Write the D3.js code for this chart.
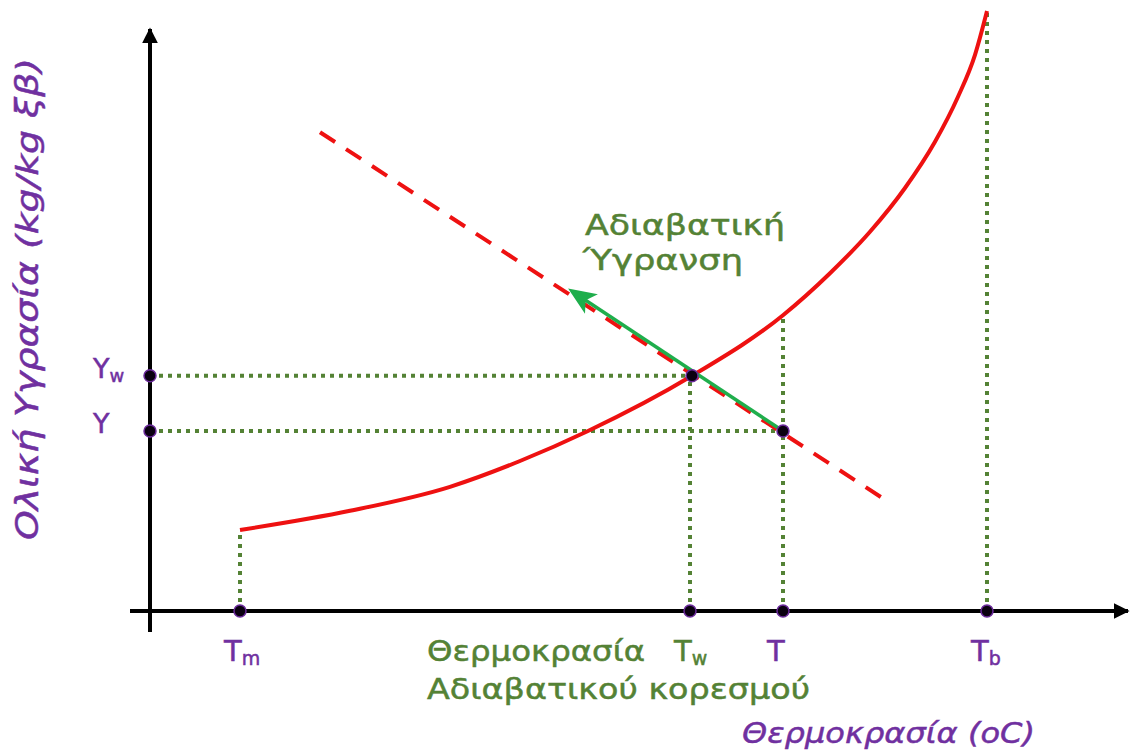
<!DOCTYPE html>
<html>
<head>
<meta charset="utf-8">
<script src="https://cdn.jsdelivr.net/npm/d3@7"></script>
<style>
  body { margin: 0; background: #fff; }
  svg { display: block; }
</style>
</head>
<body>
<div id="chart"></div>
<script>
// Schematic: saturation humidity vs temperature (abstract units 0..100)
const curveT = [9, 20, 30, 37, 43.8, 54.2, 63.3, 68, 72, 75.5, 78.5, 80.8, 82.5, 83.7]
const curveY = [13.5, 16.7, 20.7, 25, 30, 39.2, 49.3, 56.3, 63.2, 70.5, 78.2, 85.7, 92.7, 100]
const adiabaticT = [17, 74]
const adiabaticY = [79.8, 18]
const arrowT = [63.3, 42.2]
const arrowY = [30, 53.3]
const xMarks = [{ name: 'Tm', t: 9, top: 13.5 }, { name: 'Tw', t: 54, top: 39.2 }, { name: 'T', t: 63.3, top: 49.3 }, { name: 'Tb', t: 83.7, top: 100 }]
const yMarks = [{ name: 'Yw', y: 39.2, right: 54 }, { name: 'Y', y: 30, right: 63.3 }]

const W = 1144, H = 750
const PURPLE = '#7030a0', OLIVE = '#548235', RED = '#ee1111', GREEN = '#1fae4c'
const FONT = '"DejaVu Sans", sans-serif'

const x = d3.scaleLinear().domain([0, 100]).range([150, 1150])
const y = d3.scaleLinear().domain([0, 100]).range([611, 11])

const svg = d3.select('#chart').append('svg').attr('width', W).attr('height', H)
const defs = svg.append('defs')
defs.append('marker').attr('id', 'ax-arrow')
  .attr('viewBox', '0 0 10 10').attr('refX', 9).attr('refY', 5)
  .attr('markerWidth', 4).attr('markerHeight', 4).attr('markerUnits', 'strokeWidth')
  .attr('orient', 'auto')
  .append('path').attr('d', 'M0,0 L10,5 L0,10 Z').attr('fill', '#000')
defs.append('marker').attr('id', 'gr-arrow')
  .attr('viewBox', '0 0 12 10').attr('refX', 10).attr('refY', 5)
  .attr('markerWidth', 8).attr('markerHeight', 7).attr('markerUnits', 'strokeWidth')
  .attr('orient', 'auto')
  .append('path').attr('d', 'M0,0 L12,5 L0,10 L3,5 Z').attr('fill', GREEN)

// Axes
svg.append('line')
  .attr('x1', x(0)).attr('x2', x(0)).attr('y1', y(-3.5)).attr('y2', y(97))
  .attr('stroke', '#000').attr('stroke-width', 4).attr('marker-end', 'url(#ax-arrow)')
svg.append('line')
  .attr('x1', x(-2)).attr('x2', x(97.8)).attr('y1', y(0)).attr('y2', y(0))
  .attr('stroke', '#000').attr('stroke-width', 4).attr('marker-end', 'url(#ax-arrow)')

// Dotted guide lines
const dotted = svg.append('g')
  .attr('stroke', OLIVE).attr('stroke-width', 4).attr('stroke-dasharray', '4,5')
dotted.selectAll('.v').data(xMarks).join('line')
  .attr('x1', d => x(d.t)).attr('x2', d => x(d.t))
  .attr('y1', y(0)).attr('y2', d => y(d.top))
dotted.selectAll('.h').data(yMarks).join('line')
  .attr('x1', x(0)).attr('x2', d => x(d.right))
  .attr('y1', d => y(d.y)).attr('y2', d => y(d.y))

// Adiabatic saturation line (dashed)
svg.append('line')
  .attr('x1', x(adiabaticT[0])).attr('y1', y(adiabaticY[0]))
  .attr('x2', x(adiabaticT[1])).attr('y2', y(adiabaticY[1]))
  .attr('stroke', RED).attr('stroke-width', 4).attr('stroke-dasharray', '18,13')

// Saturation curve
const pts = curveT.map((t, i) => [t, curveY[i]])
svg.append('path').datum(pts)
  .attr('fill', 'none').attr('stroke', RED).attr('stroke-width', 4)
  .attr('d', d3.line().x(d => x(d[0])).y(d => y(d[1])).curve(d3.curveMonotoneX))

// Adiabatic humidification arrow
svg.append('line')
  .attr('x1', x(arrowT[0])).attr('y1', y(arrowY[0]))
  .attr('x2', x(arrowT[1])).attr('y2', y(arrowY[1]))
  .attr('stroke', GREEN).attr('stroke-width', 3.5).attr('marker-end', 'url(#gr-arrow)')

// Points
const dotStyle = sel => sel.attr('r', 6).attr('fill', '#0a0010').attr('stroke', '#6a2a9a').attr('stroke-width', 1.5)
svg.selectAll('.xdot').data(xMarks).join('circle')
  .attr('cx', d => x(d.t)).attr('cy', y(0)).call(dotStyle)
svg.selectAll('.ydot').data(yMarks).join('circle')
  .attr('cx', x(0)).attr('cy', d => y(d.y)).call(dotStyle)
svg.append('circle').attr('cx', x(54.2)).attr('cy', y(39.2)).call(dotStyle)
svg.append('circle').attr('cx', x(63.3)).attr('cy', y(30)).call(dotStyle)

// Labels with subscripts
function subLabel(g, px, py, main, sub, color, size) {
  const t = g.append('text').attr('x', px).attr('y', py)
    .attr('fill', color).attr('stroke', color).attr('stroke-width', 0.5)
    .attr('font-family', FONT).attr('font-size', size)
  t.append('tspan').text(main)
  if (sub) t.append('tspan').attr('font-size', Math.round(size * 0.66)).attr('dy', 4).text(sub)
  return t
}
yMarks.forEach(d => {
  subLabel(svg, 93, y(d.y) + 2, 'Y', d.name.slice(1), PURPLE, 27)
})
xMarks.forEach(d => {
  const col = d.name === 'Tw' ? OLIVE : PURPLE
  subLabel(svg, x(d.t) - 16, 661, 'T', d.name.slice(1), col, 29)
})

// Green annotation text
const greenText = (px, py, str, len) => svg.append('text')
  .attr('x', px).attr('y', py).attr('fill', OLIVE)
  .attr('stroke', OLIVE).attr('stroke-width', 0.5)
  .attr('font-family', FONT).attr('font-size', 29)
  .attr('textLength', len).attr('lengthAdjust', 'spacingAndGlyphs')
  .text(str)
greenText(427, 661, 'Θερμοκρασία', 218)
greenText(427, 699, 'Αδιαβατικού κορεσμού', 383)
greenText(585, 235, 'Αδιαβατική', 200)
greenText(583, 270, 'Ύγρανση', 160)

// Axis titles
svg.append('text')
  .attr('x', 742).attr('y', 743).attr('fill', PURPLE)
  .attr('stroke', PURPLE).attr('stroke-width', 0.5)
  .attr('font-family', FONT).attr('font-size', 29).attr('font-style', 'italic')
  .attr('textLength', 293).attr('lengthAdjust', 'spacingAndGlyphs')
  .text('Θερμοκρασία (oC)')
svg.append('text')
  .attr('transform', `translate(38,${(58 + 540) / 2}) rotate(-90)`)
  .attr('text-anchor', 'middle').attr('fill', PURPLE)
  .attr('stroke', PURPLE).attr('stroke-width', 0.5)
  .attr('font-family', FONT).attr('font-size', 31).attr('font-style', 'italic')
  .attr('textLength', 482).attr('lengthAdjust', 'spacingAndGlyphs')
  .text('Ολική Υγρασία (kg/kg ξβ)')
</script>
</body>
</html>
